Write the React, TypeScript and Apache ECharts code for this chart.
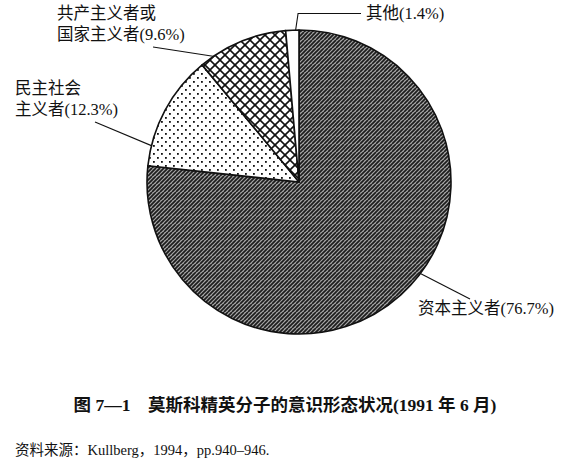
import React, { useEffect, useRef } from "react";
import * as echarts from "echarts";

const categories = ["资本主义者", "民主社会主义者", "共产主义者或国家主义者", "其他"];
const shares = [76.7, 12.3, 9.6, 1.4];
const lineBreaks = [0, 4, 6, 0];
const titleText = "图 7—1　莫斯科精英分子的意识形态状况(1991 年 6 月)";
const sourceText = "资料来源：Kullberg，1994，pp.940–946.";

function makeTile(size: number, draw: (ctx: CanvasRenderingContext2D) => void) {
  const c = document.createElement("canvas");
  c.width = size;
  c.height = size;
  const ctx = c.getContext("2d")!;
  draw(ctx);
  return { image: c, repeat: "repeat", imageWidth: size, imageHeight: size };
}

export default function App() {
  const ref = useRef<HTMLDivElement>(null);
  useEffect(() => {
    if (!ref.current) return;
    const chart = echarts.init(ref.current, undefined, { renderer: "svg" });

    const hatch = makeTile(8, (ctx) => {
      ctx.fillStyle = "#a8a8a8";
      ctx.fillRect(0, 0, 8, 8);
      ctx.strokeStyle = "#1c1c1c";
      ctx.lineWidth = 1.7;
      for (let i = -8; i <= 16; i += 4) {
        ctx.beginPath();
        ctx.moveTo(i, 8);
        ctx.lineTo(i + 8, 0);
        ctx.stroke();
      }
    });
    const dots = makeTile(8, (ctx) => {
      ctx.fillStyle = "#ffffff";
      ctx.fillRect(0, 0, 8, 8);
      ctx.fillStyle = "#111";
      ctx.fillRect(1, 1, 1.8, 1.8);
      ctx.fillRect(5, 5, 1.8, 1.8);
    });
    const cross = makeTile(10, (ctx) => {
      ctx.fillStyle = "#ffffff";
      ctx.fillRect(0, 0, 10, 10);
      ctx.strokeStyle = "#111";
      ctx.lineWidth = 1.6;
      for (let i = -10; i <= 20; i += 10) {
        ctx.beginPath();
        ctx.moveTo(i, 10);
        ctx.lineTo(i + 10, 0);
        ctx.stroke();
        ctx.beginPath();
        ctx.moveTo(i, 0);
        ctx.lineTo(i + 10, 10);
        ctx.stroke();
      }
    });
    const fills: any[] = [hatch, dots, cross, "#ffffff"];

    const cx = 299;
    const cy = 182;
    const R = 152;
    const polar = (deg: number, k: number) => [
      cx + R * k * Math.cos((deg * Math.PI) / 180),
      cy - R * k * Math.sin((deg * Math.PI) / 180),
    ];
    // label placement (layout only)
    const labelPos = [
      { x: 418, y: 298, end: polar(-37, 1.0), to: (r: any) => [r.x + 52, r.y + 1] },
      { x: 15, y: 78, end: polar(167.5, 0.87), to: (r: any) => [r.x + 80, r.y + r.height + 2] },
      { x: 57, y: 3, end: polar(123, 0.98), to: (r: any) => [r.x + 96, r.y + r.height + 2] },
      { x: 366, y: 3, end: polar(92, 0.93), to: (r: any) => [r.x - 5, r.y + r.height / 2] },
    ];

    const font = '"Liberation Serif", "Noto Sans CJK SC", serif';

    chart.setOption({
      animation: false,
      backgroundColor: "#ffffff",
      title: [
        {
          text: titleText,
          left: "center",
          top: 391,
          textStyle: { fontSize: 17.5, fontWeight: "bold", color: "#111", fontFamily: font },
        },
        {
          text: sourceText,
          left: 10,
          top: 438,
          textStyle: { fontSize: 14.5, fontWeight: "normal", color: "#111", fontFamily: font },
        },
      ],
      series: [
        {
          type: "pie",
          center: [cx, cy],
          radius: R,
          startAngle: 90,
          clockwise: true,
          avoidLabelOverlap: false,
          itemStyle: { borderColor: "#111", borderWidth: 1.6 },
          emphasis: { disabled: true },
          label: {
            show: true,
            position: "outside",
            color: "#111",
            fontSize: 16.5,
            lineHeight: 21,
            fontFamily: font,
            formatter: (p: any) => {
              const b = lineBreaks[p.dataIndex];
              const n = p.name as string;
              const head = b ? n.slice(0, b) + "\n" + n.slice(b) : n;
              return `${head}(${p.value}%)`;
            },
          },
          labelLine: { show: true, lineStyle: { color: "#111", width: 1.1 } },
          labelLayout: (params: any) => {
            const lp = labelPos[params.dataIndex];
            const w = params.labelRect.width;
            const h = params.labelRect.height;
            const rect = { x: lp.x, y: lp.y, width: w, height: h };
            const tip = lp.to(rect);
            const pts =
              params.dataIndex === 3
                ? [lp.end, [lp.end[0] + 4, tip[1]], tip]
                : [lp.end, tip];
            return {
              x: lp.x,
              y: lp.y,
              align: "left",
              verticalAlign: "top",
              labelLinePoints: pts,
            };
          },
          data: categories.map((name, i) => ({
            name,
            value: shares[i],
            itemStyle: { color: fills[i] },
          })),
        },
      ],
    });
    return () => chart.dispose();
  }, []);
  return (
    <div
      ref={ref}
      style={{ position: "absolute", left: 0, top: 0, width: 570, height: 461 }}
    />
  );
}
